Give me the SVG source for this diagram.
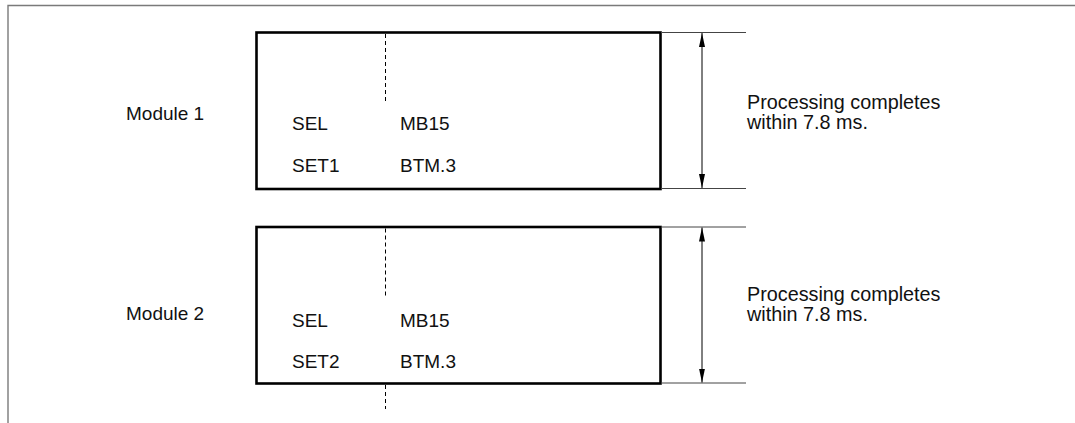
<svg xmlns="http://www.w3.org/2000/svg" width="1075" height="423" viewBox="0 0 1075 423">
<defs>
<style>
.t{font-family:"Liberation Sans",Arial,sans-serif;font-size:19px;fill:#111}
.n{font-family:"Liberation Sans",Arial,sans-serif;font-size:19.8px;fill:#111}
.box{fill:none;stroke:#000;stroke-width:2.6}
.dash{stroke:#000;stroke-width:1;stroke-dasharray:4 3;fill:none}
.ext{stroke:#444;stroke-width:1;fill:none}
.dim{stroke:#000;stroke-width:1;fill:none;marker-start:url(#ah);marker-end:url(#ah)}
</style>
<marker id="ah" viewBox="0 0 14 6" refX="14" refY="3" markerWidth="14" markerHeight="6" markerUnits="userSpaceOnUse" orient="auto-start-reverse">
<path d="M0,0 L14,3 L0,6 Z" fill="#000"/>
</marker>
</defs>
<rect width="1075" height="423" fill="#fff"/>
<path d="M8,423 V5.5 H1075" fill="none" stroke="#7a7a7a" stroke-width="1.4"/>
<g id="module1">
<text class="t" x="126" y="120">Module 1</text>
<rect class="box" x="256.5" y="32.5" width="404" height="156.5"/>
<text class="t" x="292" y="130">SEL</text>
<text class="t" x="400" y="130">MB15</text>
<text class="t" x="292" y="172">SET1</text>
<text class="t" x="400" y="172">BTM.3</text>
</g>
<g id="note1">
<text class="n" x="747" y="109">Processing completes</text>
<text class="n" x="747" y="129">within 7.8 ms.</text>
</g>
<g id="module2">
<text class="t" x="126" y="320">Module 2</text>
<rect class="box" x="256.5" y="227" width="404" height="156.5"/>
<text class="t" x="292" y="327">SEL</text>
<text class="t" x="400" y="327">MB15</text>
<text class="t" x="292" y="368">SET2</text>
<text class="t" x="400" y="368">BTM.3</text>
</g>
<g id="note2">
<text class="n" x="747" y="301">Processing completes</text>
<text class="n" x="747" y="321">within 7.8 ms.</text>
</g>
<g id="connectors">
<path class="dash" d="M385.5,34 V104"/>
<path class="dash" d="M385.5,228.5 V298"/>
<path class="dash" d="M385.5,385 V409"/>
<path class="ext" d="M661,32.5 H746 M661,188.5 H746"/>
<path class="ext" d="M661,227 H746 M661,383 H746"/>
<path class="dim" d="M702,33 V188"/>
<path class="dim" d="M702,227.5 V382.5"/>
</g>
</svg>
